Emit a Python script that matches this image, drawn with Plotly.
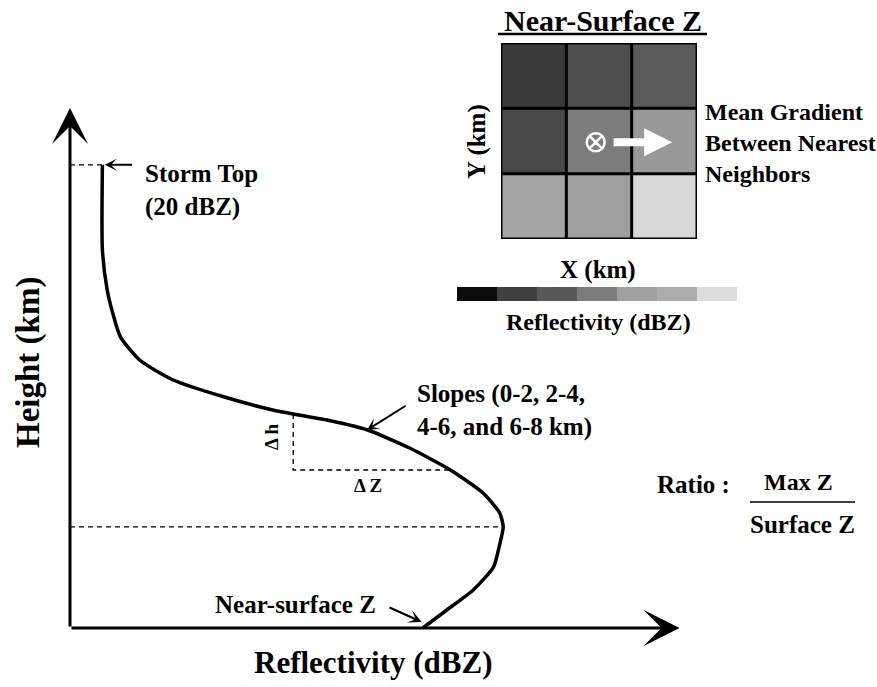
import plotly.graph_objects as go

# ---------------- data (diagram units: reflectivity in dBZ, height in km) ----------------
PROFILE_DBZ = [20.1, 20.1, 20.5, 21.0, 21.6, 23.2, 26.0, 30.2, 34.3, 39.1, 42.2,
               45.7, 49.1, 51.8, 53.2, 53.5, 53.2, 52.7, 51.0, 48.8, 46.8]
PROFILE_KM = [11.58, 9.45, 8.45, 7.83, 7.28, 6.70, 6.20, 5.78, 5.45, 5.18, 4.95,
              4.50, 3.95, 3.38, 2.88, 2.53, 2.08, 1.53, 0.95, 0.45, 0.0]

AXIS_ORIGIN_DBZ = 17.4
AXIS_TOP_KM = 13.0
AXIS_END_DBZ = 68.2

STORM_TOP = (20.1, 11.58)
MAX_Z = (53.5, 2.53)
SURFACE_Z = (46.8, 0.0)
SLOPE_TOP = (36.0, 5.35)
SLOPE_BOTTOM = (49.1, 3.95)

# near-surface Z grid (rows bottom -> top), dBZ
GRID_Z = [[49.2, 44.7, 64.2],
          [19.2, 35.0, 42.8],
          [13.8, 20.8, 25.6]]
GRID_POINT = (0.95, 0.98)
GRADIENT_END = (2.12, 0.98)

# colour bar bins
CBAR_DBZ = [5, 15, 25, 35, 45, 55, 65]
CBAR_GRAYS = ['#0c0c0c', '#404040', '#585858', '#7c7c7c', '#a0a0a0', '#acacac', '#dcdcdc']

# ---------------- layout geometry ----------------
W, H = 877, 687
PX_PER_DBZ, PX_PER_KM = 12.0, 40.0
ORIGIN_PX = (70, 628)
FONT = "Liberation Serif, Times New Roman, serif"

x_range = [AXIS_ORIGIN_DBZ - ORIGIN_PX[0] / PX_PER_DBZ,
           AXIS_ORIGIN_DBZ + (W - ORIGIN_PX[0]) / PX_PER_DBZ]
y_range = [-(H - ORIGIN_PX[1]) / PX_PER_KM, ORIGIN_PX[1] / PX_PER_KM]

def px(xp):
    return xp / W

def py(yp):
    return 1 - yp / H

colorscale = [[(v - CBAR_DBZ[0]) / (CBAR_DBZ[-1] - CBAR_DBZ[0]), c] for v, c in zip(CBAR_DBZ, CBAR_GRAYS)]

fig = go.Figure()

# profile curve
fig.add_trace(go.Scatter(x=PROFILE_DBZ, y=PROFILE_KM, mode="lines",
                         line=dict(color="black", width=3.5, shape="spline", smoothing=0.6),
                         xaxis="x", yaxis="y", hoverinfo="skip"))

dash = "5px,4px"
# storm top dashed
fig.add_trace(go.Scatter(x=[AXIS_ORIGIN_DBZ, STORM_TOP[0]], y=[STORM_TOP[1], STORM_TOP[1]], mode="lines",
                         line=dict(color="black", width=1.3, dash=dash), hoverinfo="skip"))
# max Z dashed
fig.add_trace(go.Scatter(x=[AXIS_ORIGIN_DBZ, MAX_Z[0]], y=[MAX_Z[1], MAX_Z[1]], mode="lines",
                         line=dict(color="black", width=1.3, dash=dash), hoverinfo="skip"))
# slope triangle
fig.add_trace(go.Scatter(x=[SLOPE_TOP[0], SLOPE_TOP[0], SLOPE_BOTTOM[0]],
                         y=[SLOPE_TOP[1], SLOPE_BOTTOM[1], SLOPE_BOTTOM[1]], mode="lines",
                         line=dict(color="black", width=1.3, dash=dash), hoverinfo="skip"))

# grid heatmap
fig.add_trace(go.Heatmap(z=GRID_Z, x=[0, 1, 2], y=[0, 1, 2], colorscale=colorscale,
                         zmin=CBAR_DBZ[0], zmax=CBAR_DBZ[-1], showscale=False,
                         xaxis="x2", yaxis="y2", hoverinfo="skip"))
fig.add_trace(go.Scatter(x=[GRID_POINT[0]], y=[GRID_POINT[1]], mode="markers",
                         marker=dict(symbol="circle-x-open", size=18, color="white",
                                     line=dict(color="white", width=2.5)),
                         xaxis="x2", yaxis="y2", hoverinfo="skip"))

# colour bar
fig.add_trace(go.Heatmap(z=[CBAR_DBZ], x=list(range(len(CBAR_DBZ))), y=[0], colorscale=colorscale,
                         zmin=CBAR_DBZ[0], zmax=CBAR_DBZ[-1], showscale=False,
                         xaxis="x3", yaxis="y3", hoverinfo="skip"))

shapes = []
# grid lines
for k in range(4):
    v = k - 0.5
    shapes.append(dict(type="line", xref="x2", yref="y2", x0=v, x1=v, y0=-0.5, y1=2.5,
                       line=dict(color="black", width=3)))
    shapes.append(dict(type="line", xref="x2", yref="y2", x0=-0.5, x1=2.5, y0=v, y1=v,
                       line=dict(color="black", width=3)))
# title underline
shapes.append(dict(type="line", xref="paper", yref="paper", x0=px(498), x1=px(707), y0=py(34), y1=py(34),
                   line=dict(color="black", width=2.5)))
# ratio fraction bar
shapes.append(dict(type="line", xref="paper", yref="paper", x0=px(750), x1=px(855), y0=py(502), y1=py(502),
                   line=dict(color="black", width=1.5)))

annotations = []

def arrow(x, y, ax, ay, width, size, head=3, color="black", xref="x", yref="y"):
    annotations.append(dict(x=x, y=y, ax=ax, ay=ay, xref=xref, yref=yref, axref=xref, ayref=yref,
                            text="", showarrow=True, arrowhead=head, arrowwidth=width,
                            arrowsize=size, arrowcolor=color))

def label(x, y, text, size, xanchor="center", yanchor="middle", xref="paper", yref="paper", angle=0, align="left"):
    annotations.append(dict(x=x, y=y, xref=xref, yref=yref, text=text, showarrow=False,
                            xanchor=xanchor, yanchor=yanchor, textangle=angle, align=align,
                            font=dict(family=FONT, size=size, color="black")))

# axes arrows
arrow(AXIS_ORIGIN_DBZ, AXIS_TOP_KM, AXIS_ORIGIN_DBZ, 0, 3, 2.0)
arrow(AXIS_END_DBZ, 0, AXIS_ORIGIN_DBZ, 0, 3, 2.0)

# pointer arrows
arrow(20.3, STORM_TOP[1], 22.7, STORM_TOP[1], 2, 1.0)
arrow(42.15, 4.95, 45.5, 5.58, 2, 1.0)
arrow(46.7, 0.15, 43.9, 0.53, 2.2, 1.0)
# gradient arrow (white)
arrow(GRADIENT_END[0], GRADIENT_END[1], 1.2, GRADIENT_END[1], 8, 0.7, head=2, color="white",
      xref="x2", yref="y2")

# labels
label(px(143), py(190), "<b>Storm Top<br>(20 dBZ)</b>", 25, xanchor="left")
label(px(415), py(411), "<b>Slopes (0-2, 2-4,<br>4-6, and 6-8 km)</b>", 25, xanchor="left")
label(px(271), py(437), "<b>Δ h</b>", 19, angle=-90)
label(px(368), py(485), "<b>Δ Z</b>", 19)
label(px(378), py(604), "<b>Near-surface Z</b>", 25, xanchor="right")
label(px(373), py(662), "<b>Reflectivity (dBZ)</b>", 31)
label(px(28), py(363), "<b>Height (km)</b>", 33, angle=-90)
label(px(693), py(484), "<b>Ratio :</b>", 25)
label(px(798), py(482), "<b>Max Z</b>", 24)
label(px(802), py(524), "<b>Surface Z</b>", 25)

label(px(603), py(20), "<b>Near-Surface Z</b>", 30)
label(px(477), py(142), "<b>Y (km)</b>", 25, angle=-90)
label(px(598), py(270), "<b>X (km)</b>", 25)
label(px(598), py(322), "<b>Reflectivity (dBZ)</b>", 24)
label(px(703), py(143), "<b>Mean Gradient<br>Between Nearest<br>Neighbors</b>", 24, xanchor="left")

hidden = dict(visible=False, showgrid=False, zeroline=False, fixedrange=True)
fig.update_layout(
    width=W, height=H,
    margin=dict(l=0, r=0, t=0, b=0),
    paper_bgcolor="white", plot_bgcolor="rgba(0,0,0,0)",
    showlegend=False,
    xaxis=dict(hidden, domain=[0, 1], range=x_range),
    yaxis=dict(hidden, domain=[0, 1], range=y_range),
    xaxis2=dict(hidden, domain=[px(501), px(697)], range=[-0.5, 2.5], anchor="y2"),
    yaxis2=dict(hidden, domain=[py(239), py(43)], range=[-0.5, 2.5], anchor="x2"),
    xaxis3=dict(hidden, domain=[px(457), px(737)], range=[-0.5, 6.5], anchor="y3"),
    yaxis3=dict(hidden, domain=[py(301), py(287)], range=[-0.5, 0.5], anchor="x3"),
    shapes=shapes,
    annotations=annotations,
)

fig.write_html("out.html", config={"displayModeBar": False},
               post_script="document.body.style.margin='0';document.body.style.overflow='hidden';")
